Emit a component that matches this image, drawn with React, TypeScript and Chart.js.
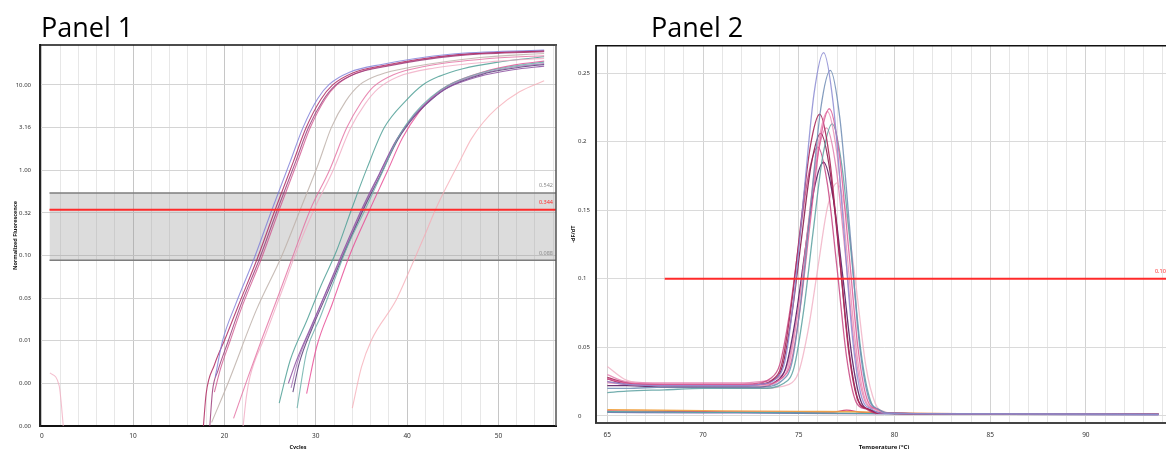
import { useEffect, useRef } from 'react';
import { Chart, registerables } from 'chart.js';

Chart.register(...registerables);

type Pt = [number, number];

// ---------------- Panel 1 : amplification (cycle, normalized fluorescence) ----------------
const ampCycleTicks = [0, 2, 4, 6, 8, 10, 12, 14, 16, 18, 20, 22, 24, 26, 28, 30, 32, 34, 36, 38, 40, 42, 44, 46, 48, 50, 52, 54, 56];
const ampCycleLabels = [0, 10, 20, 30, 40, 50];
const ampLogTicks = [0.001, 0.00316, 0.01, 0.0316, 0.1, 0.316, 1, 3.16, 10];
const ampLogLabels = ['0.00', '0.00', '0.01', '0.03', '0.10', '0.32', '1.00', '3.16', '10.00'];
const ampBand = [0.088, 0.542];
const ampThreshold = 0.344;
const ampThresholdSpan = [0.85, 56.3];

const ampLavender: Pt[] = [[19.0, 0.0038], [19.8, 0.01], [21.2, 0.0263], [23.2, 0.0891], [25.2, 0.344], [27.2, 1.26], [28.6, 3.16], [30.2, 6.9], [31.5, 10.2], [33.7, 14.1], [37.2, 17.4], [44.7, 22.9], [55, 25.7]];
const ampCrimson: Pt[] = [[17.7, 0.001], [18.0, 0.0024], [18.9, 0.0052], [20.15, 0.011], [21.55, 0.0263], [23.55, 0.0891], [25.55, 0.344], [27.55, 1.26], [28.95, 3.16], [30.55, 6.76], [31.85, 10], [34.05, 13.8], [37.55, 17.0], [45.05, 22.4], [55, 25.1]];
const ampBerry: Pt[] = [[18.4, 0.001], [18.7, 0.0026], [19.3, 0.0045], [20.4, 0.0098], [21.8, 0.0263], [23.8, 0.0891], [25.8, 0.344], [27.8, 1.26], [29.2, 3.16], [30.8, 6.6], [32.1, 9.8], [34.3, 13.5], [37.8, 16.6], [45.3, 21.9], [55, 24.5]];
const ampRose: Pt[] = [[18.9, 0.0025], [19.6, 0.0048], [20.6, 0.0098], [22.0, 0.0263], [24.0, 0.0891], [26.0, 0.344], [28.0, 1.26], [29.4, 3.16], [31.0, 6.76], [32.3, 10], [34.5, 13.8], [38.0, 17.0], [45.5, 22.4], [55, 25.1]];
const ampBeige: Pt[] = [[18.6, 0.0011], [20.5, 0.0034], [23.5, 0.023], [26.3, 0.1], [28.3, 0.344], [30.3, 1.2], [31.7, 3.16], [33.3, 6.5], [34.8, 10], [37.0, 13.2], [40.5, 16.2], [48, 21], [55, 23.4]];
const ampPink: Pt[] = [[21.0, 0.00123], [22.6, 0.0038], [24.0, 0.0098], [26.0, 0.036], [27.4, 0.092], [29.4, 0.344], [31.5, 1.0], [33.4, 3.16], [35.0, 6.3], [36.3, 9.5], [38.5, 13.2], [42, 16.6], [49, 20.4], [55, 22]];
const ampLightPink: Pt[] = [[22.05, 0.001], [22.4, 0.0022], [22.8, 0.0038], [24.4, 0.011], [26.4, 0.041], [27.8, 0.105], [29.8, 0.344], [31.9, 1.0], [33.8, 3.1], [35.4, 6.0], [36.8, 9.0], [39, 12.5], [43, 15.8], [50, 19], [55, 20.5]];
const ampTeal: Pt[] = [[26.0, 0.00186], [27.2, 0.0059], [29.0, 0.017], [30.6, 0.045], [32.3, 0.115], [33.9, 0.344], [35.6, 1.05], [37.5, 3.16], [39.9, 6.6], [41.7, 10], [43.5, 12.6], [46.1, 15.5], [49.8, 18.4], [55, 21.4]];
const ampTeal2: Pt[] = [[27.96, 0.00162], [29.0, 0.0074], [30.5, 0.019], [32.0, 0.05], [33.5, 0.13], [35.4, 0.344], [37.3, 0.95], [39.0, 2.4], [40.8, 4.6], [42.6, 7.2], [44.4, 9.8], [48, 13.8], [51.6, 16.6], [55, 18.5]];
const ampPurple: Pt[] = [[27.0, 0.00316], [27.9, 0.0059], [29.5, 0.0148], [31.0, 0.035], [32.8, 0.1], [35.0, 0.344], [37.0, 0.93], [38.8, 2.24], [40.7, 4.27], [42.5, 6.6], [44.3, 9.1], [47.9, 12.6], [51.6, 15.1], [55, 16.6]];
const ampPurpleDark: Pt[] = [[27.5, 0.0025], [28.2, 0.0055], [29.7, 0.0148], [31.2, 0.035], [33.0, 0.1], [35.2, 0.344], [37.2, 0.93], [39.0, 2.3], [40.9, 4.4], [42.7, 6.8], [44.5, 9.4], [48.1, 13.2], [51.8, 15.8], [55, 17.4]];
const ampViolet: Pt[] = [[27.3, 0.0028], [28.0, 0.0056], [29.6, 0.015], [31.1, 0.036], [32.9, 0.1], [35.1, 0.344], [37.1, 0.95], [38.9, 2.3], [40.8, 4.5], [42.6, 7.0], [44.4, 9.6], [48.0, 13.4], [51.7, 16.2], [55, 17.8]];
const ampMagenta: Pt[] = [[29.0, 0.0024], [30.1, 0.0085], [31.8, 0.027], [33.7, 0.1], [35.9, 0.344], [37.8, 0.95], [39.5, 2.4], [41.3, 4.8], [43.0, 7.6], [44.8, 10.3], [48.3, 14.2], [51.8, 17.2], [55, 19.0]];
const ampLate: Pt[] = [[34.0, 0.00162], [35.0, 0.0049], [36.1, 0.0102], [38.8, 0.030], [40.3, 0.068], [41.8, 0.16], [43.1, 0.344], [44.5, 0.7], [45.8, 1.3], [47.0, 2.3], [48.3, 3.6], [49.8, 5.3], [52.3, 8.3], [55, 11.2]];
const ampEarly: Pt[] = [[0.9, 0.0042], [1.9, 0.003], [2.4, 0.0009]];

// ---------------- Panel 2 : melt curves (temperature, -dF/dT) ----------------
const meltTempTicks = [65, 66, 67, 68, 69, 70, 71, 72, 73, 74, 75, 76, 77, 78, 79, 80, 81, 82, 83, 84, 85, 86, 87, 88, 89, 90, 91, 92, 93, 94];
const meltTempLabels = [65, 70, 75, 80, 85, 90];
const meltYTicks = [0, 0.05, 0.1, 0.15, 0.2, 0.25];
const meltYLabels = ['0', '0.05', '0.1', '0.15', '0.2', '0.25'];
const meltThreshold = 0.1;
const meltThresholdSpan = [68, 94.5];

const meltLavender: Pt[] = [[65, 0.025], [66, 0.023], [68, 0.022], [70, 0.022], [72, 0.022], [73, 0.023], [73.8, 0.027], [74.3, 0.041], [74.8, 0.093], [75.3, 0.166], [75.8, 0.235], [76.3, 0.265], [76.8, 0.228], [77.3, 0.146], [77.8, 0.058], [78.3, 0.013], [78.8, 0.005], [79.3, 0.002], [85, 0.0015], [93.8, 0.001]];
const meltSteel: Pt[] = [[65, 0.020], [66, 0.020], [68, 0.021], [70, 0.021], [72, 0.021], [73, 0.021], [74.15, 0.026], [74.65, 0.039], [75.15, 0.088], [75.65, 0.157], [76.15, 0.224], [76.65, 0.252], [77.15, 0.217], [77.65, 0.139], [78.15, 0.055], [78.65, 0.013], [79.15, 0.005], [79.65, 0.002], [85, 0.0015], [93.8, 0.001]];
const meltPink: Pt[] = [[65, 0.027], [66, 0.024], [68, 0.023], [70, 0.023], [72, 0.023], [73, 0.023], [74.1, 0.0275], [74.6, 0.039], [75.1, 0.081], [75.6, 0.141], [76.1, 0.199], [76.6, 0.224], [77.1, 0.193], [77.6, 0.123], [78.1, 0.049], [78.6, 0.011], [79.1, 0.005], [79.6, 0.002], [85, 0.0015], [93.8, 0.001]];
const meltRose: Pt[] = [[65, 0.024], [66, 0.023], [68, 0.022], [70, 0.022], [72, 0.022], [73, 0.022], [74.0, 0.026], [74.5, 0.038], [75.0, 0.080], [75.5, 0.140], [76.0, 0.197], [76.5, 0.222], [77.0, 0.191], [77.5, 0.122], [78.0, 0.049], [78.5, 0.011], [79.0, 0.005], [79.5, 0.002], [85, 0.0015], [93.8, 0.001]];
const meltCrimson: Pt[] = [[65, 0.028], [66, 0.024], [68, 0.022], [70, 0.022], [72, 0.022], [73, 0.023], [73.6, 0.026], [74.1, 0.037], [74.6, 0.079], [75.1, 0.139], [75.6, 0.196], [76.1, 0.220], [76.6, 0.189], [77.1, 0.121], [77.6, 0.048], [78.1, 0.011], [78.6, 0.005], [79.1, 0.002], [85, 0.0015], [93.8, 0.001]];
const meltTeal: Pt[] = [[65, 0.017], [66, 0.018], [68, 0.019], [70, 0.020], [72, 0.020], [73, 0.020], [74.25, 0.024], [74.75, 0.035], [75.25, 0.076], [75.75, 0.134], [76.25, 0.189], [76.75, 0.213], [77.25, 0.183], [77.75, 0.117], [78.25, 0.047], [78.75, 0.011], [79.25, 0.004], [79.75, 0.002], [85, 0.0015], [93.8, 0.001]];
const meltWine: Pt[] = [[65, 0.027], [66, 0.023], [68, 0.022], [70, 0.022], [72, 0.022], [73, 0.023], [73.65, 0.026], [74.15, 0.036], [74.65, 0.075], [75.15, 0.130], [75.65, 0.183], [76.15, 0.206], [76.65, 0.177], [77.15, 0.113], [77.65, 0.045], [78.15, 0.010], [78.65, 0.005], [79.15, 0.002], [85, 0.0015], [93.8, 0.001]];
const meltMagenta: Pt[] = [[65, 0.025], [66, 0.023], [68, 0.023], [70, 0.023], [72, 0.023], [73, 0.024], [73.5, 0.027], [74.0, 0.037], [74.5, 0.073], [75.0, 0.125], [75.5, 0.175], [76.0, 0.196], [76.5, 0.169], [77.0, 0.108], [77.5, 0.043], [78.0, 0.010], [78.5, 0.005], [79.0, 0.002], [85, 0.0015], [93.8, 0.001]];
const meltPlum: Pt[] = [[65, 0.022], [66, 0.022], [68, 0.021], [70, 0.021], [72, 0.021], [73, 0.021], [73.8, 0.025], [74.3, 0.034], [74.8, 0.068], [75.3, 0.117], [75.8, 0.165], [76.3, 0.185], [76.8, 0.159], [77.3, 0.102], [77.8, 0.041], [78.3, 0.009], [78.8, 0.004], [79.3, 0.002], [85, 0.0015], [93.8, 0.001]];
const meltBlush: Pt[] = [[65, 0.036], [66, 0.026], [68, 0.022], [70, 0.021], [72, 0.020], [73, 0.020], [74.5, 0.023], [75.0, 0.032], [75.5, 0.063], [76.0, 0.108], [76.5, 0.152], [77.0, 0.170], [77.5, 0.146], [78.0, 0.094], [78.5, 0.037], [79.0, 0.009], [79.5, 0.003], [80.0, 0.002], [85, 0.0015], [93.8, 0.001]];
const meltOrchid: Pt[] = [[65, 0.030], [66, 0.025], [68, 0.024], [70, 0.024], [72, 0.024], [73, 0.025], [73.95, 0.028], [74.45, 0.039], [74.95, 0.077], [75.45, 0.133], [75.95, 0.187], [76.45, 0.210], [76.95, 0.181], [77.45, 0.116], [77.95, 0.046], [78.45, 0.011], [78.95, 0.005], [79.45, 0.002], [85, 0.0015], [93.8, 0.001]];
const meltNtcOrange: Pt[] = [[65, 0.0045], [70, 0.0038], [75, 0.0032], [78, 0.003], [80, 0.0022], [85, 0.0016], [93.8, 0.0011]];
const meltNtcTeal: Pt[] = [[65, 0.003], [70, 0.0026], [75, 0.0022], [80, 0.0016], [93.8, 0.001]];
const meltNtcViolet: Pt[] = [[65, 0.0025], [70, 0.0022], [75, 0.0019], [80, 0.0014], [93.8, 0.0008]];
const meltNtcRed: Pt[] = [[65, 0.0036], [70, 0.0031], [75, 0.0027], [76.8, 0.0027], [77.5, 0.0042], [78.3, 0.0025], [80, 0.0018], [85, 0.0015], [93.8, 0.0011]];

// ---------------- styles ----------------
const ampSeries: { data: Pt[]; color: string }[] = [
  { data: ampLavender, color: 'rgba(125,125,215,0.8)' },
  { data: ampCrimson, color: 'rgba(175,40,95,0.85)' },
  { data: ampBerry, color: 'rgba(150,50,115,0.8)' },
  { data: ampRose, color: 'rgba(205,75,135,0.75)' },
  { data: ampBeige, color: 'rgba(190,178,170,0.85)' },
  { data: ampPink, color: 'rgba(228,110,160,0.8)' },
  { data: ampLightPink, color: 'rgba(240,170,195,0.8)' },
  { data: ampTeal, color: 'rgba(80,160,150,0.85)' },
  { data: ampTeal2, color: 'rgba(110,178,172,0.85)' },
  { data: ampPurple, color: 'rgba(140,80,160,0.85)' },
  { data: ampPurpleDark, color: 'rgba(90,60,120,0.85)' },
  { data: ampViolet, color: 'rgba(165,115,185,0.8)' },
  { data: ampMagenta, color: 'rgba(232,80,150,0.85)' },
  { data: ampLate, color: 'rgba(245,170,180,0.75)' },
  { data: ampEarly, color: 'rgba(240,170,190,0.75)' },
];

const meltSeries: { data: Pt[]; color: string }[] = [
  { data: meltLavender, color: 'rgba(140,140,210,0.85)' },
  { data: meltSteel, color: 'rgba(110,140,180,0.85)' },
  { data: meltPink, color: 'rgba(220,90,150,0.85)' },
  { data: meltRose, color: 'rgba(232,140,180,0.8)' },
  { data: meltCrimson, color: 'rgba(170,40,90,0.9)' },
  { data: meltTeal, color: 'rgba(90,160,160,0.85)' },
  { data: meltWine, color: 'rgba(140,30,80,0.9)' },
  { data: meltMagenta, color: 'rgba(200,70,130,0.85)' },
  { data: meltPlum, color: 'rgba(90,30,100,0.9)' },
  { data: meltBlush, color: 'rgba(240,175,195,0.8)' },
  { data: meltOrchid, color: 'rgba(225,120,170,0.8)' },
  { data: meltNtcOrange, color: 'rgba(240,160,60,0.9)' },
  { data: meltNtcTeal, color: 'rgba(80,170,170,0.9)' },
  { data: meltNtcViolet, color: 'rgba(120,90,170,0.9)' },
  { data: meltNtcRed, color: 'rgba(210,60,110,0.9)' },
];

const FONT = "'Noto Sans', 'DejaVu Sans', sans-serif";
const toXY = (pts: Pt[]) => pts.map(([x, y]) => ({ x, y }));

const framePlugin = {
  id: 'frame',
  afterDraw(chart: any, _a: any, opts: any) {
    const { ctx, chartArea: a } = chart;
    ctx.save();
    if (opts.top) {
      ctx.strokeStyle = opts.top.color; ctx.lineWidth = opts.top.width;
      ctx.beginPath(); ctx.moveTo(a.left, a.top); ctx.lineTo(a.right + 1, a.top); ctx.stroke();
    }
    if (opts.right) {
      ctx.strokeStyle = opts.right.color; ctx.lineWidth = opts.right.width;
      ctx.beginPath(); ctx.moveTo(a.right, a.top); ctx.lineTo(a.right, a.bottom); ctx.stroke();
    }
    ctx.restore();
  },
};

const lineLabelPlugin = {
  id: 'lineLabels',
  afterDatasetsDraw(chart: any, _a: any, opts: any) {
    const { ctx, chartArea: a, scales } = chart;
    ctx.save();
    ctx.font = `${opts.size}px ${FONT}`;
    ctx.textAlign = 'right';
    ctx.textBaseline = 'middle';
    (opts.items || []).forEach((it: any) => {
      const y = scales.y.getPixelForValue(it.value);
      ctx.fillStyle = it.color;
      ctx.fillText(it.text, a.right - 3, y - 7);
    });
    ctx.restore();
  },
};

function lineDs(pts: Pt[], color: string, width: number, extra: any = {}) {
  return {
    data: toXY(pts),
    borderColor: color,
    borderWidth: width,
    pointRadius: 0,
    fill: false,
    cubicInterpolationMode: 'monotone',
    ...extra,
  };
}

export default function App() {
  const c1 = useRef<HTMLCanvasElement>(null);
  const c2 = useRef<HTMLCanvasElement>(null);

  useEffect(() => {
    const chart1 = new Chart(c1.current as HTMLCanvasElement, {
      type: 'line',
      data: {
        datasets: [
          lineDs([[ampThresholdSpan[0], ampThreshold], [ampThresholdSpan[1], ampThreshold]], '#ff2a2a', 2, { cubicInterpolationMode: 'default' }),
          ...ampSeries.map((s) => lineDs(s.data, s.color, 1.1)),
          lineDs([[ampThresholdSpan[0], ampBand[1]], [ampThresholdSpan[1], ampBand[1]]], '#7e7e7e', 1.5, { cubicInterpolationMode: 'default' }),
          lineDs([[ampThresholdSpan[0], ampBand[0]], [ampThresholdSpan[1], ampBand[0]]], '#7e7e7e', 1.5, {
            cubicInterpolationMode: 'default', fill: '-1', backgroundColor: 'rgba(150,150,150,0.33)',
          }),
        ] as any,
      },
      options: {
        animation: false,
        responsive: false,
        events: [],
        layout: { padding: { top: 45, right: 14, left: 0, bottom: 0 } },
        plugins: {
          legend: { display: false },
          tooltip: { enabled: false },
          frame: { top: { color: '#111', width: 1.5 }, right: { color: '#555', width: 1.5 } },
          lineLabels: {
            size: 5.5,
            items: [
              { value: ampBand[1], text: ampBand[1].toFixed(3), color: '#8a8a8a' },
              { value: ampThreshold, text: ampThreshold.toFixed(3), color: '#ff2a2a' },
              { value: ampBand[0], text: ampBand[0].toFixed(3), color: '#8a8a8a' },
            ],
          },
        } as any,
        scales: {
          x: {
            type: 'linear',
            min: -0.19,
            max: 56.3,
            afterFit: (s: any) => { s.height = 34; },
            afterBuildTicks: (s: any) => { s.ticks = ampCycleTicks.map((v) => ({ value: v })); },
            ticks: {
              autoSkip: false, maxRotation: 0, padding: 6, color: '#333',
              font: { family: FONT, size: 6.5 },
              callback: (v: any) => (ampCycleLabels.includes(Number(v)) ? String(v) : ''),
            },
            grid: {
              drawTicks: false,
              color: (ctx: any) => (ctx.tick && ctx.tick.value % 10 === 0 ? '#c6c6c6' : '#e7e7e7'),
            },
            border: { color: '#111', width: 2 },
            title: { display: true, text: 'Cycles', color: '#111', font: { family: FONT, size: 5.5, weight: 'bold' }, padding: { top: 0, bottom: 9.7 } },
          },
          y: {
            type: 'logarithmic',
            min: 0.001,
            max: 29.4,
            afterFit: (s: any) => { s.width = 40; },
            afterBuildTicks: (s: any) => { s.ticks = ampLogTicks.map((v) => ({ value: v })); },
            ticks: {
              autoSkip: false, padding: 9, color: '#333',
              font: { family: FONT, size: 6 },
              callback: (_v: any, i: number) => ampLogLabels[i],
            },
            grid: { drawTicks: false, color: '#d4d4d4' },
            border: { color: '#222', width: 2 },
            title: { display: true, text: 'Normalized Fluorescence', color: '#111', font: { family: FONT, size: 5.5, weight: 'bold' }, padding: { top: 11.7, bottom: 0 } },
          },
        },
      } as any,
      plugins: [framePlugin, lineLabelPlugin],
    });

    const chart2 = new Chart(c2.current as HTMLCanvasElement, {
      type: 'line',
      data: {
        datasets: [
          lineDs([[meltThresholdSpan[0], meltThreshold], [meltThresholdSpan[1], meltThreshold]], '#ff2a2a', 1.8, { cubicInterpolationMode: 'default' }),
          ...meltSeries.map((s) => lineDs(s.data, s.color, 1.3)),
        ] as any,
      },
      options: {
        animation: false,
        responsive: false,
        events: [],
        layout: { padding: { top: 45.7, right: 38, left: 8, bottom: 0 } },
        plugins: {
          legend: { display: false },
          tooltip: { enabled: false },
          frame: { top: { color: '#111', width: 1.5 } },
          lineLabels: {
            size: 5.5,
            items: [{ value: meltThreshold, text: meltThreshold.toFixed(3), color: '#ff2a2a' }],
          },
        } as any,
        scales: {
          x: {
            type: 'linear',
            min: 64.41,
            max: 94.5,
            afterFit: (s: any) => { s.height = 37.3; },
            afterBuildTicks: (s: any) => { s.ticks = meltTempTicks.map((v) => ({ value: v })); },
            ticks: {
              autoSkip: false, maxRotation: 0, padding: 9, color: '#333',
              font: { family: FONT, size: 6.5 },
              callback: (v: any) => (meltTempLabels.includes(Number(v)) ? String(v) : ''),
            },
            grid: {
              drawTicks: false,
              color: (ctx: any) => (ctx.tick && ctx.tick.value % 5 === 0 ? '#d2d2d2' : '#e6e6e6'),
            },
            border: { color: '#444', width: 2 },
            title: { display: true, text: 'Temperature (°C)', color: '#111', font: { family: FONT, size: 6, weight: 'bold' }, padding: { top: 0, bottom: 9.4 } },
          },
          y: {
            type: 'linear',
            min: -0.005,
            max: 0.27,
            afterFit: (s: any) => { s.width = 18; },
            afterBuildTicks: (s: any) => { s.ticks = meltYTicks.map((v) => ({ value: v })); },
            ticks: {
              autoSkip: false, padding: 6, crossAlign: 'far', color: '#333',
              font: { family: FONT, size: 6 },
              callback: (_v: any, i: number) => meltYLabels[i],
            },
            grid: { drawTicks: false, color: '#dadada' },
            border: { color: '#333', width: 2 },
            title: { display: true, text: '-dF/dT', color: '#111', font: { family: FONT, size: 5.5, weight: 'bold' }, padding: { top: -8.3, bottom: 0 } },
          },
        },
      } as any,
      plugins: [framePlugin, lineLabelPlugin],
    });

    return () => {
      chart1.destroy();
      chart2.destroy();
    };
  }, []);

  const titleStyle: any = {
    position: 'absolute',
    top: 13,
    font: "27px 'Open Sans', 'Liberation Sans', sans-serif",
    lineHeight: '27px',
    color: '#000',
    whiteSpace: 'nowrap',
  };

  return (
    <div style={{ position: 'fixed', left: 0, top: 0, width: 1166, height: 449, overflow: 'hidden', background: '#fff' }}>
      <canvas ref={c1} width={570} height={460} style={{ position: 'absolute', left: 0, top: 0, width: 570, height: 460 }} />
      <canvas ref={c2} width={640} height={460} style={{ position: 'absolute', left: 570, top: 0, width: 640, height: 460 }} />
      <div style={{ ...titleStyle, left: 41 }}>Panel 1</div>
      <div style={{ ...titleStyle, left: 651 }}>Panel 2</div>
    </div>
  );
}
